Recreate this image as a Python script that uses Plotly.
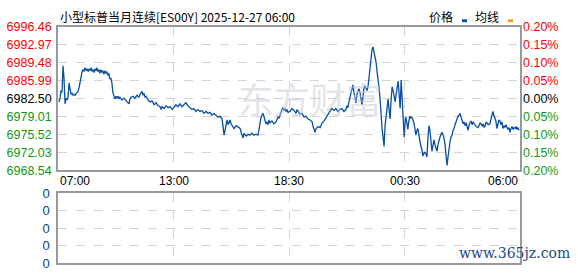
import plotly.graph_objects as go

# ---- data ----
title_text = "小型标普当月连续[ES00Y] 2025-12-27 06:00"
x_tick_labels = ["07:00", "13:00", "18:30", "00:30", "06:00"]
x_tick_pos = [0, 345, 690, 1035, 1380]          # minutes since session start
price_ticks = [6968.54, 6972.03, 6975.52, 6979.01, 6982.50,
               6985.99, 6989.48, 6992.97, 6996.46]
pct_labels = ["0.20%", "0.15%", "0.10%", "0.05%", "0.00%",
              "0.05%", "0.10%", "0.15%", "0.20%"]
vol_ticks = [0, 1, 2, 3, 4]
vol_labels = ["0", "0", "0", "0", "0"]

minutes = [
    3, 6, 9, 12, 15, 18, 21, 24, 27, 30,
    33, 36, 39, 42, 45, 48, 51, 54, 57, 60,
    63, 66, 69, 72, 75, 78, 81, 84, 87, 90,
    93, 96, 99, 102, 105, 108, 111, 114, 116, 119,
    122, 125, 128, 131, 134, 137, 140, 143, 146, 149,
    152, 155, 158, 161, 164, 167, 170, 173, 176, 179,
    182, 185, 191, 197, 203, 209, 212, 215, 218, 224,
    230, 236, 242, 245, 248, 251, 254, 257, 260, 263,
    269, 275, 281, 287, 293, 299, 305, 308, 311, 317,
    323, 329, 335, 341, 346, 352, 358, 364, 370, 376,
    382, 388, 394, 400, 406, 412, 418, 424, 430, 436,
    442, 448, 454, 460, 466, 472, 478, 484, 490, 493,
    496, 499, 502, 505, 508, 511, 514, 517, 520, 526,
    532, 538, 544, 547, 550, 553, 556, 562, 568, 573,
    579, 585, 591, 597, 600, 603, 606, 609, 612, 615,
    618, 621, 624, 627, 630, 633, 639, 645, 651, 654,
    657, 660, 663, 666, 669, 672, 675, 678, 681, 684,
    687, 693, 699, 705, 711, 714, 717, 723, 729, 735,
    741, 747, 753, 759, 762, 765, 768, 771, 777, 783,
    789, 795, 801, 806, 812, 818, 824, 830, 836, 842,
    848, 854, 860, 863, 866, 869, 872, 875, 878, 881,
    884, 887, 890, 893, 896, 899, 902, 905, 908, 911,
    914, 917, 920, 923, 926, 929, 932, 935, 938, 941,
    944, 947, 950, 953, 956, 959, 962, 965, 968, 971,
    974, 977, 980, 983, 986, 989, 992, 995, 998, 1001,
    1004, 1007, 1010, 1013, 1016, 1019, 1022, 1025, 1028, 1031,
    1034, 1036, 1039, 1042, 1045, 1048, 1051, 1054, 1057, 1060,
    1063, 1066, 1069, 1072, 1075, 1078, 1081, 1084, 1087, 1090,
    1093, 1096, 1099, 1102, 1105, 1108, 1111, 1114, 1117, 1120,
    1123, 1126, 1129, 1132, 1135, 1138, 1141, 1144, 1147, 1150,
    1153, 1156, 1159, 1162, 1165, 1168, 1171, 1174, 1177, 1180,
    1183, 1186, 1189, 1192, 1195, 1198, 1201, 1204, 1207, 1210,
    1213, 1216, 1219, 1222, 1225, 1228, 1231, 1234, 1237, 1240,
    1243, 1249, 1255, 1261, 1267, 1270, 1273, 1276, 1279, 1285,
    1290, 1293, 1296, 1299, 1302, 1305, 1308, 1311, 1314, 1317,
    1320, 1323, 1326, 1329, 1332, 1335, 1338, 1341, 1344, 1347,
    1350, 1353, 1356, 1359, 1362, 1365, 1368, 1371, 1374, 1377,
]
prices = [
    6981.85, 6982.59, 6984.07, 6983.70, 6988.88, 6986.48, 6981.48, 6982.59, 6982.22, 6982.78,
    6985.55, 6984.07, 6983.33, 6983.52, 6983.15, 6983.33, 6983.15, 6983.52, 6983.70, 6983.89,
    6984.63, 6985.92, 6987.03, 6987.77, 6988.14, 6987.77, 6988.51, 6987.95, 6988.32, 6987.77,
    6988.32, 6987.95, 6988.51, 6987.77, 6988.14, 6987.58, 6988.32, 6987.95, 6988.51, 6987.77,
    6988.14, 6987.40, 6988.14, 6987.58, 6987.95, 6987.22, 6987.95, 6987.40, 6987.77, 6987.03,
    6987.40, 6986.29, 6986.48, 6985.55, 6983.70, 6982.78, 6982.41, 6982.96, 6982.59, 6982.96,
    6982.41, 6982.78, 6982.22, 6982.59, 6982.22, 6981.67, 6981.48, 6982.41, 6982.78, 6982.96,
    6982.59, 6983.15, 6982.78, 6983.33, 6983.70, 6983.89, 6983.15, 6983.52, 6982.78, 6982.96,
    6982.22, 6981.85, 6982.04, 6981.30, 6981.67, 6981.11, 6980.93, 6980.37, 6980.93, 6980.56,
    6981.11, 6980.74, 6980.93, 6980.37, 6980.74, 6981.30, 6980.93, 6981.48, 6980.93, 6981.30,
    6981.67, 6981.11, 6980.74, 6980.37, 6980.56, 6980.00, 6980.37, 6980.00, 6980.19, 6979.63,
    6980.00, 6979.63, 6979.82, 6979.26, 6979.63, 6979.26, 6978.89, 6979.08, 6978.52, 6977.05,
    6975.38, 6976.31, 6977.79, 6978.34, 6977.42, 6977.97, 6978.34, 6977.60, 6977.23, 6976.68,
    6977.23, 6976.86, 6976.68, 6975.94, 6975.38, 6974.83, 6975.75, 6975.20, 6975.57, 6975.38,
    6975.75, 6975.38, 6975.57, 6975.38, 6976.31, 6977.79, 6978.71, 6979.26, 6979.63, 6979.08,
    6978.15, 6977.60, 6977.97, 6977.42, 6978.34, 6977.79, 6978.15, 6977.60, 6977.97, 6978.52,
    6978.89, 6978.71, 6979.45, 6980.00, 6980.37, 6980.74, 6980.19, 6980.56, 6980.00, 6980.37,
    6979.82, 6980.00, 6980.56, 6980.19, 6979.63, 6980.37, 6980.00, 6979.45, 6979.63, 6978.89,
    6979.08, 6978.52, 6978.34, 6977.97, 6977.05, 6976.31, 6975.94, 6976.68, 6977.05, 6976.86,
    6977.79, 6978.15, 6978.89, 6979.26, 6980.00, 6980.56, 6980.19, 6980.56, 6980.00, 6980.37,
    6980.56, 6980.00, 6980.37, 6981.11, 6980.74, 6981.85, 6982.78, 6983.33, 6984.81, 6985.18,
    6983.70, 6982.22, 6981.67, 6983.33, 6984.07, 6984.44, 6983.70, 6982.59, 6981.30, 6982.78,
    6984.63, 6985.00, 6984.44, 6984.07, 6984.81, 6986.48, 6988.88, 6990.73, 6992.02, 6992.58,
    6991.65, 6990.17, 6989.62, 6987.77, 6986.48, 6984.63, 6982.41, 6978.52, 6976.68, 6975.01,
    6973.16, 6977.23, 6979.45, 6981.11, 6982.41, 6980.37, 6978.52, 6982.22, 6984.81, 6984.07,
    6982.59, 6981.85, 6983.33, 6985.18, 6985.92, 6983.33, 6980.56, 6986.11, 6981.85, 6978.15,
    6975.01, 6977.23, 6978.89, 6977.79, 6976.49, 6978.15, 6979.08, 6978.71, 6978.89, 6978.34,
    6977.79, 6976.68, 6975.38, 6976.31, 6976.68, 6975.38, 6974.09, 6973.16, 6972.61, 6971.31,
    6971.87, 6972.05, 6971.68, 6971.13, 6974.83, 6977.23, 6976.31, 6974.09, 6972.24, 6973.35,
    6974.46, 6973.53, 6972.98, 6972.24, 6973.53, 6974.46, 6975.01, 6975.57, 6975.94, 6975.38,
    6974.83, 6973.53, 6972.05, 6969.46, 6971.13, 6973.16, 6974.09, 6975.01, 6975.38, 6976.31,
    6976.68, 6977.42, 6978.15, 6978.71, 6979.08, 6979.26, 6979.63, 6978.89, 6978.15, 6977.60,
    6977.97, 6977.23, 6977.79, 6976.68, 6976.31, 6977.42, 6977.97, 6978.15, 6977.42, 6977.97,
    6977.60, 6977.05, 6976.86, 6977.79, 6977.23, 6977.60, 6976.86, 6977.23, 6977.97, 6977.42,
    6977.60, 6978.52, 6979.26, 6980.00, 6979.26, 6978.52, 6978.15, 6976.68, 6977.42, 6978.34,
    6978.15, 6977.42, 6977.97, 6976.68, 6977.23, 6976.86, 6977.42, 6976.86, 6976.49, 6976.86,
    6975.94, 6976.68, 6977.05, 6976.49, 6976.86, 6976.68, 6977.05, 6976.49, 6976.86, 6976.31,
]

# ---- styling ----
RED = "#ff0000"
GREEN = "#119911"
BLACK = "#000000"
LINE = "#0a4fa3"
GRID = "#d4d4d4"
FRAME = "#999999"
W, H = 578, 276
L, R = 58, 520
MT, MB = 21, 172
VT, VB = 196, 270


def px_x(p):
    return p / W


def px_y(p):
    return 1 - p / H


def colored(labels):
    out = []
    n = len(labels)
    for i, t in enumerate(labels):
        c = GREEN if i < n // 2 else (BLACK if i == n // 2 else RED)
        out.append(f'<span style="color:{c}">{t}</span>')
    return out


fig = go.Figure()
fig.add_trace(go.Scatter(x=minutes, y=prices, mode="lines",
                         line=dict(color=LINE, width=1.3),
                         xaxis="x", yaxis="y", hoverinfo="skip"))
fig.add_trace(go.Scatter(x=[0, 1380], y=[None, None], mode="lines",
                         xaxis="x2", yaxis="y3", hoverinfo="skip"))
fig.add_trace(go.Scatter(x=[0], y=[None], xaxis="x", yaxis="y2", hoverinfo="skip"))

axis_common = dict(showline=True, linecolor=FRAME, linewidth=1.5, mirror=True,
                   showgrid=True, gridcolor=GRID, griddash="dash", gridwidth=1,
                   zeroline=False, ticks="", fixedrange=True)

fig.update_layout(
    width=W, height=H, margin=dict(l=0, r=0, t=0, b=0),
    paper_bgcolor="white", plot_bgcolor="white", showlegend=False,
    font=dict(family="Liberation Sans, Arial", size=12, color=BLACK),
    xaxis=dict(domain=[px_x(L), px_x(R)], range=[0, 1380], tickvals=x_tick_pos[1:-1],
               showticklabels=False, anchor="y", **axis_common),
    yaxis=dict(domain=[px_y(MB), px_y(MT)], range=[price_ticks[0], price_ticks[-1]],
               tickvals=price_ticks, ticktext=colored([f"{v:.2f}" for v in price_ticks]),
               tickfont=dict(size=12.5), ticklabelstandoff=2, anchor="x", **axis_common),
    yaxis2=dict(overlaying="y", side="right", range=[price_ticks[0], price_ticks[-1]],
                tickvals=price_ticks, ticktext=colored(pct_labels), showgrid=False,
                zeroline=False, showline=False, ticks="", tickfont=dict(size=12.5),
                ticklabelstandoff=2, anchor="x", fixedrange=True),
    xaxis2=dict(domain=[px_x(L), px_x(R)], range=[0, 1380], tickvals=x_tick_pos[1:-1],
                showticklabels=False, anchor="y3", **axis_common),
    yaxis3=dict(domain=[px_y(VB), px_y(VT)], range=[0, 4], tickvals=vol_ticks,
                ticktext=vol_labels, tickfont=dict(size=13, color="#0b3f8f"),
                ticklabelstandoff=4, anchor="x2", **axis_common),
)

ann = []
for i, (pos, lab) in enumerate(zip(x_tick_pos, x_tick_labels)):
    anchor = "left" if i == 0 else ("right" if i == len(x_tick_pos) - 1 else "center")
    ann.append(dict(x=pos, xref="x", y=px_y(183), yref="paper", text=lab,
                    showarrow=False, xanchor=anchor, yanchor="middle",
                    font=dict(size=12, color=BLACK)))
ann.append(dict(x=px_x(58), xref="paper", y=px_y(10), yref="paper", text=title_text,
                showarrow=False, xanchor="left", yanchor="middle",
                font=dict(family="Noto Sans CJK SC", size=12, color=BLACK)))
ann.append(dict(x=px_x(455), xref="paper", y=px_y(10), yref="paper", text="价格",
                showarrow=False, xanchor="right", yanchor="middle",
                font=dict(family="Noto Sans CJK SC", size=12, color=BLACK)))
ann.append(dict(x=px_x(501), xref="paper", y=px_y(10), yref="paper", text="均线",
                showarrow=False, xanchor="right", yanchor="middle",
                font=dict(family="Noto Sans CJK SC", size=12, color=BLACK)))
ann.append(dict(x=px_x(310), xref="paper", y=px_y(96), yref="paper", text="东方财富",
                showarrow=False, xanchor="center", yanchor="middle",
                font=dict(family="Noto Sans CJK SC", size=36, color="rgba(200,202,212,0.5)")))
ann.append(dict(x=px_x(572), xref="paper", y=px_y(259), yref="paper", text="www.365jz.com",
                showarrow=False, xanchor="right", yanchor="middle",
                font=dict(family="DejaVu Serif", size=14, color="#1d4a86")))
fig.update_layout(annotations=ann)

shapes = [
    dict(type="rect", xref="paper", yref="paper", x0=px_x(462), x1=px_x(467),
         y0=px_y(16), y1=px_y(13), fillcolor="#0a4fa3", line=dict(width=0)),
    dict(type="rect", xref="paper", yref="paper", x0=px_x(508), x1=px_x(513),
         y0=px_y(16), y1=px_y(13), fillcolor="#e0a81a", line=dict(width=0)),
]
fig.update_layout(shapes=shapes)

fig.write_html("out.html")
